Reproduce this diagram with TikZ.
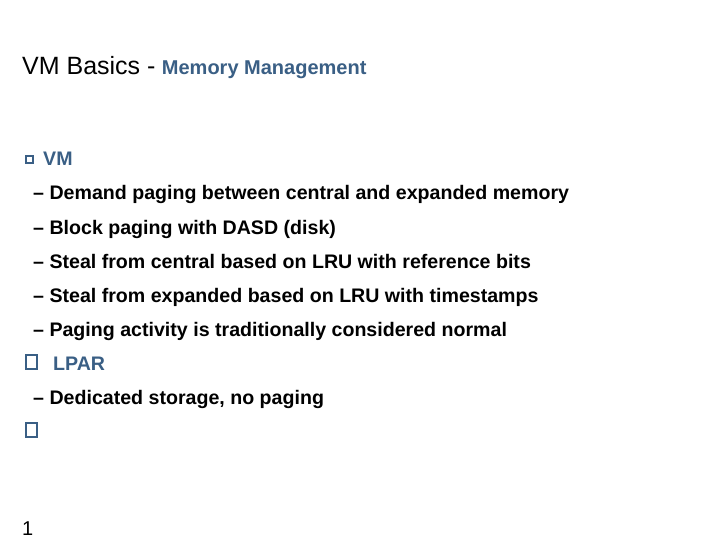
\documentclass[tikz,border=0pt]{standalone}
\usepackage{fontspec}
\setmainfont{Liberation Sans}
\begin{document}
\begin{tikzpicture}[x=1pt,y=-1pt,
  tx/.style={anchor=base west,inner sep=0pt},
  body/.style={tx,font=\fontsize{19.6}{22}\selectfont\bfseries},
  head/.style={tx,font=\fontsize{19.6}{22}\selectfont\bfseries,text=blu},
  sq/.style={draw=blu,line width=#1}]
\definecolor{blu}{HTML}{3A5F85}
\useasboundingbox[fill=white] (0,0) rectangle (720,540);
\node[tx,font=\fontsize{25}{28}\selectfont] (t1) at (22,75) {VM Basics -};
\node[tx,font=\fontsize{20}{22}\selectfont\bfseries,text=blu,anchor=base west] (t2) at ([xshift=6pt]t1.base east) {Memory Management};
\draw[sq=1.2pt] (26,156) rectangle (33,163);
\node[head] (vm) at (43,166) {VM};
\node[body] (l1) at (33,200) {– Demand paging between central and expanded memory};
\node[body] (l2) at (33,234) {– Block paging with DASD (disk)};
\node[body] (l3) at (33,268) {– Steal from central based on LRU with reference bits};
\node[body] (l4) at (33,302) {– Steal from expanded based on LRU with timestamps};
\node[body] (l5) at (33,336) {– Paging activity is traditionally considered normal};
\draw[sq=2.2pt] (26,355) rectangle (37,369);
\node[head] (lp) at (53,370) {LPAR};
\node[body] (l6) at (33,404) {– Dedicated storage, no paging};
\draw[sq=2.2pt] (26,423) rectangle (37,437);
\node[tx,font=\fontsize{20}{22}\selectfont] (pg) at (22,535) {1};
\end{tikzpicture}
\end{document}
